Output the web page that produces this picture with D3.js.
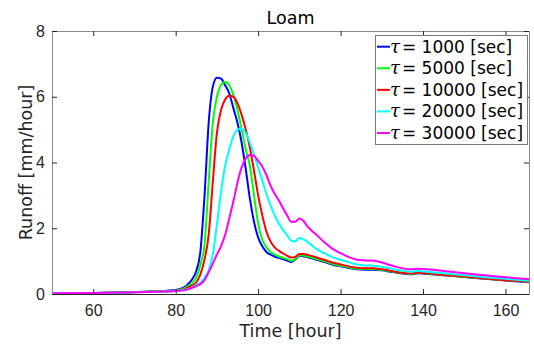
<!DOCTYPE html>
<html><head><meta charset="utf-8">
<script src="https://cdn.jsdelivr.net/npm/d3@7/dist/d3.min.js"></script>
<style>body{margin:0;background:#fff} svg{display:block}</style>
</head><body>
<svg id="c" width="534" height="347"></svg>
<script>
// ---- data ----
const timeHours = [50,60,70,75,80,82,83,84,85,86,87,88,89,90,91,92,93,94,95,96,97,98,99,100,101,102,103,104,105,106,107,108,109,110,111,112,114,116,118,120,122,124,126,128,130,132,134,136,137,139,141,145,150,155,160,165.7];
const runoffTau1000 = [0.02,0.03,0.06,0.08,0.12,0.2,0.3,0.45,0.7,1.3,3.0,5.2,6.3,6.58,6.55,6.35,6.1,5.65,5.2,4.6,3.8,2.9,2.2,1.72,1.45,1.28,1.2,1.14,1.1,1.06,1.02,0.97,1.05,1.16,1.15,1.12,1.05,0.98,0.9,0.84,0.79,0.75,0.74,0.74,0.72,0.68,0.64,0.61,0.6,0.63,0.61,0.57,0.52,0.46,0.41,0.36];
const runoffTau5000 = [0.02,0.03,0.06,0.08,0.11,0.17,0.24,0.33,0.5,0.9,1.5,3.4,5.2,6.0,6.35,6.45,6.35,6.05,5.6,5.0,4.4,3.9,3.0,2.15,1.65,1.42,1.28,1.2,1.14,1.1,1.06,1.01,1.07,1.18,1.17,1.14,1.07,1.0,0.92,0.86,0.81,0.77,0.76,0.76,0.73,0.69,0.65,0.62,0.61,0.64,0.62,0.58,0.52,0.47,0.42,0.37];
const runoffTau10000 = [0.02,0.03,0.05,0.07,0.1,0.14,0.19,0.26,0.35,0.6,1.05,1.8,3.4,4.9,5.6,5.92,6.03,6.0,5.8,5.45,5.0,4.45,3.75,3.0,2.4,1.9,1.6,1.42,1.32,1.24,1.17,1.11,1.13,1.22,1.22,1.19,1.12,1.04,0.96,0.9,0.84,0.8,0.78,0.78,0.75,0.71,0.66,0.63,0.62,0.65,0.63,0.58,0.53,0.47,0.42,0.37];
const runoffTau20000 = [0.02,0.03,0.05,0.07,0.09,0.12,0.15,0.2,0.27,0.35,0.5,0.72,1.2,2.1,3.1,3.9,4.4,4.8,5.0,5.03,4.9,4.6,4.25,3.85,3.45,3.05,2.7,2.4,2.15,1.95,1.8,1.62,1.6,1.7,1.66,1.58,1.38,1.24,1.12,1.04,0.97,0.9,0.87,0.86,0.83,0.78,0.73,0.69,0.68,0.7,0.68,0.63,0.57,0.51,0.46,0.4];
const runoffTau30000 = [0.02,0.03,0.05,0.07,0.09,0.11,0.14,0.19,0.24,0.3,0.42,0.66,0.92,1.2,1.45,1.8,2.3,2.82,3.4,3.85,4.12,4.23,4.2,4.05,3.88,3.62,3.3,3.05,2.85,2.62,2.4,2.2,2.2,2.3,2.22,2.05,1.82,1.58,1.38,1.24,1.12,1.04,1.02,1.01,0.96,0.88,0.81,0.76,0.75,0.77,0.75,0.7,0.63,0.57,0.51,0.45];
const tauLabels = ["1000","5000","10000","20000","30000"];
const seriesColors = ["#0000ff","#00ff00","#ff0000","#00ffff","#ff00ff"];
const xTicks = [60,80,100,120,140,160];
const yTicks = [0,2,4,6,8];

const seriesValues = [runoffTau1000, runoffTau5000, runoffTau10000, runoffTau20000, runoffTau30000];

// ---- layout ----
const L = 52, R = 529, T = 31, B = 294;
const svg = d3.select("#c");
const x = d3.scaleLinear().domain([50, 165.7]).range([L, R]);
const y = d3.scaleLinear().domain([0, 8]).range([B, T]);
const tickFont = "'Liberation Sans', Arial, sans-serif";
const labelFont = "'DejaVu Sans', sans-serif";
const axisCol = "#262626";

// clip
svg.append("defs").append("clipPath").attr("id","clip")
  .append("rect").attr("x", L).attr("y", T).attr("width", R - L + 1).attr("height", B - T + 1);

// lines
const line = d3.line().x((d,i)=>x(timeHours[i])).y(d=>y(d)).curve(d3.curveMonotoneX);
const g = svg.append("g").attr("clip-path","url(#clip)");
seriesValues.forEach((vals, k) => {
  g.append("path").datum(vals).attr("d", line)
    .attr("fill","none").attr("stroke", seriesColors[k]).attr("stroke-width", 2)
    .attr("stroke-linejoin","round");
});

// axes
function styleAxis(sel, col){
  sel.selectAll("path").attr("stroke", col);
  sel.selectAll("line").attr("stroke", axisCol);
  sel.selectAll("text").attr("fill", axisCol).style("font-family", tickFont).style("font-size","16px");
}
const xb = svg.append("g").attr("transform",`translate(0,${B})`)
  .call(d3.axisBottom(x).tickValues(xTicks).tickSizeInner(-5).tickSizeOuter(0).tickPadding(11));
styleAxis(xb, axisCol);
const xt = svg.append("g").attr("transform",`translate(0,${T})`)
  .call(d3.axisTop(x).tickValues(xTicks).tickSizeInner(-5).tickSizeOuter(0).tickFormat(""));
styleAxis(xt, "#8a8a8a");
const yl = svg.append("g").attr("transform",`translate(${L},0)`)
  .call(d3.axisLeft(y).tickValues(yTicks).tickSizeInner(-5).tickSizeOuter(0).tickPadding(7));
styleAxis(yl, "#8a8a8a");
const yr = svg.append("g").attr("transform",`translate(${R},0)`)
  .call(d3.axisRight(y).tickValues(yTicks).tickSizeInner(-5).tickSizeOuter(0).tickFormat(""));
styleAxis(yr, "#8a8a8a");
svg.selectAll(".domain").attr("stroke-width",1);

// title & labels
svg.append("text").attr("x", (L+R)/2).attr("y", 23.5).attr("text-anchor","middle")
  .style("font-family", labelFont).style("font-size","17.5px").attr("fill","#000").text("Loam");
svg.append("text").attr("x", (L+R)/2).attr("y", 337).attr("text-anchor","middle")
  .style("font-family", labelFont).style("font-size","17.5px").attr("fill",axisCol).text("Time [hour]");
svg.append("text").attr("transform",`translate(32,${(T+B)/2}) rotate(-90)`).attr("text-anchor","middle")
  .style("font-family", labelFont).style("font-size","17.5px").attr("fill",axisCol).text("Runoff [mm/hour]");

// legend
const lg = svg.append("g");
lg.append("rect").attr("x",375.5).attr("y",35.5).attr("width",152).attr("height",109)
  .attr("fill","#fff").attr("stroke","#7a7a7a").attr("stroke-width",1);
const rowY = d3.scaleLinear().domain([0,4]).range([46.7,133]);
tauLabels.forEach((lab,k)=>{
  const cy = rowY(k);
  lg.append("line").attr("x1",377).attr("x2",390).attr("y1",cy).attr("y2",cy)
    .attr("stroke",seriesColors[k]).attr("stroke-width",2);
  const t = lg.append("text").attr("x",390).attr("y",cy+6)
    .style("font-family", labelFont).style("font-size","17px").attr("fill","#000");
  t.append("tspan").style("font-family","'DejaVu Serif', serif").style("font-style","italic").style("font-size","18px").text("τ");
  t.append("tspan").attr("dx",2).text(`= ${lab} [sec]`);
});
</script>
</body></html>
